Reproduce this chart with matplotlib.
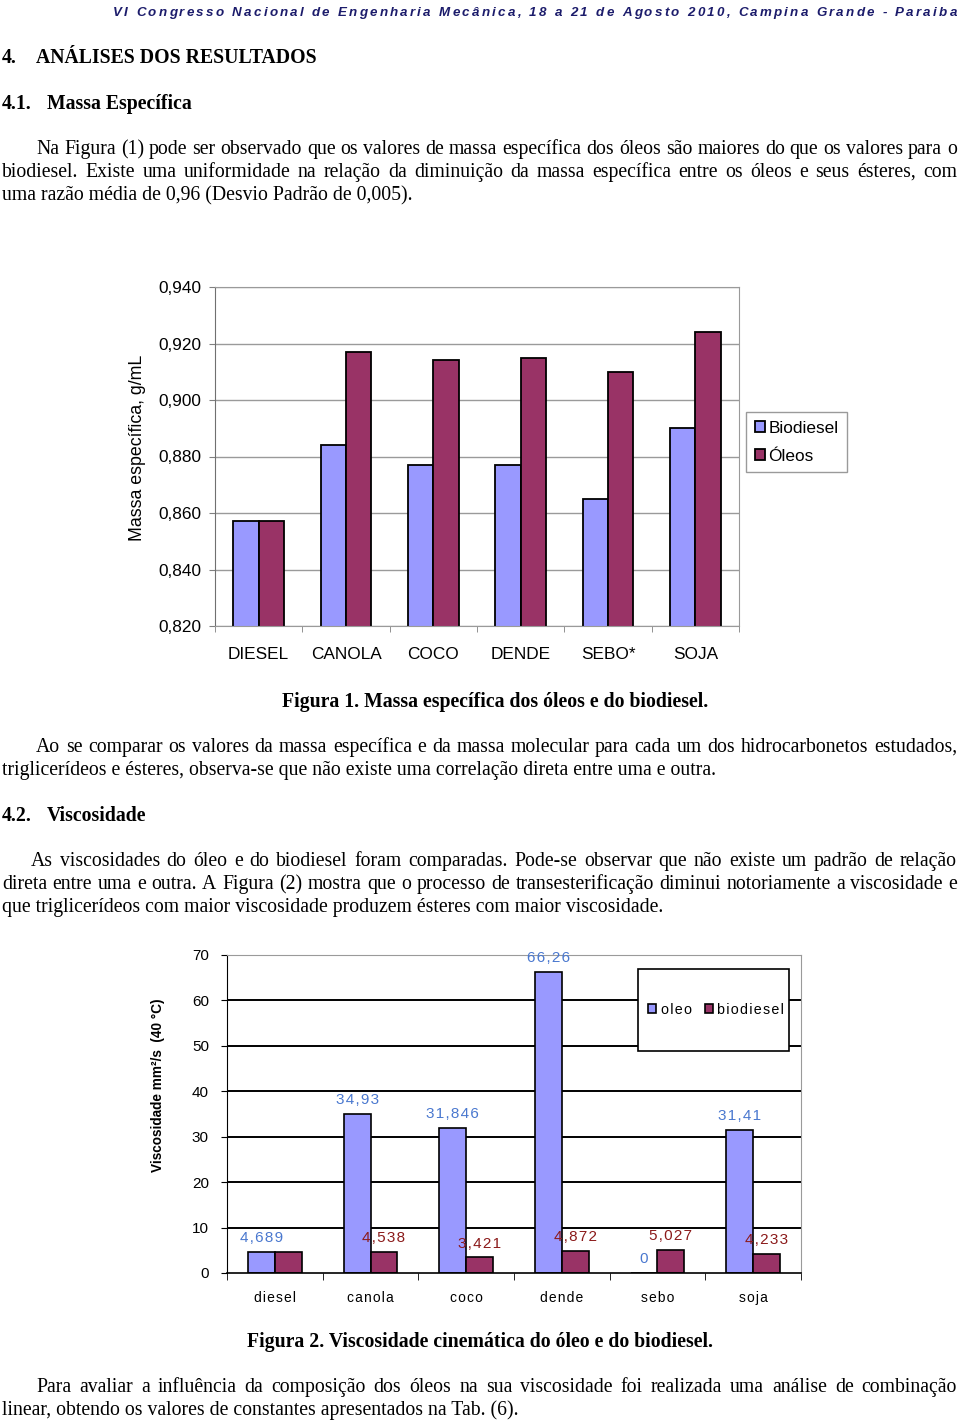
import numpy as np
import matplotlib.pyplot as plt
from matplotlib.patches import Rectangle

plt.rcParams["font.family"] = ["Liberation Sans", "DejaVu Sans"]

# page size in pixels
W, H = 960, 1421

# Figura 1 - massa especifica
cats1 = ["DIESEL", "CANOLA", "COCO", "DENDE", "SEBO*", "SOJA"]
biodiesel1 = [0.857, 0.884, 0.877, 0.877, 0.865, 0.890]
oleos1 = [0.857, 0.917, 0.914, 0.915, 0.910, 0.924]
yticks1 = [0.820, 0.840, 0.860, 0.880, 0.900, 0.920, 0.940]

# Figura 2 - viscosidade
cats2 = ["diesel", "canola", "coco", "dende", "sebo", "soja"]
oleo2 = [4.689, 34.93, 31.846, 66.26, 0, 31.41]
biodiesel2 = [4.689, 4.538, 3.421, 4.872, 5.027, 4.233]
show_bio_label = [False, True, True, True, True, True]
yticks2 = [0, 10, 20, 30, 40, 50, 60, 70]

BLUE = "#9999FF"
WINE = "#993366"
SERIF = "Liberation Serif"
HAIR = "\u200a"
TXT = 14.2

header = "VI Congresso Nacional de Engenharia Mecânica, 18 a 21 de Agosto 2010, Campina Grande - Paraiba"

par1 = ["Na Figura (1) pode ser observado que os valores de massa específica dos óleos são maiores do que os valores para o",
        "biodiesel. Existe uma uniformidade na relação da diminuição da massa específica entre os óleos e seus ésteres, com",
        "uma razão média de 0,96 (Desvio Padrão de 0,005)."]
par2 = ["Ao se comparar os valores da massa específica e da massa molecular para cada um dos hidrocarbonetos estudados,",
        "triglicerídeos e ésteres, observa-se que não existe uma correlação direta entre uma e outra."]
par3 = ["As viscosidades do óleo e do biodiesel foram comparadas. Pode-se observar que não existe um padrão de relação",
        "direta entre uma e outra. A Figura (2) mostra que o processo de transesterificação diminui notoriamente a viscosidade e",
        "que triglicerídeos com maior viscosidade produzem ésteres com maior viscosidade."]
par4 = ["Para avaliar a influência da composição dos óleos na sua viscosidade foi realizada uma análise de combinação",
        "linear, obtendo os valores de constantes apresentados na Tab. (6)."]


def fx(x):
    return x / W


def fy(y):
    return 1 - y / H


def spaced(s, sep=HAIR):
    return sep.join(s)


def comma(v, fmt="{:g}"):
    return fmt.format(v).replace(".", ",")


fig = plt.figure(figsize=(W / 100, H / 100), dpi=100)
renderer = fig.canvas.get_renderer()


def put(x, y, s, size=TXT, **kw):
    # y is the visual middle of the line; text sits on a baseline below it
    return fig.text(fx(x), fy(y + 5), s, va="baseline", family=SERIF, fontsize=size, **kw)


def justified(x0, x1, y, s, **kw):
    words = s.split()
    objs = [put(0, y, w, **kw) for w in words]
    widths = [o.get_window_extent(renderer).width for o in objs]
    gap = (x1 - x0 - sum(widths)) / (len(words) - 1)
    x = x0
    for o, w in zip(objs, widths):
        o.set_x(fx(x))
        x += w + gap


def paragraph(lines, y0, indent, step=23):
    for i, s in enumerate(lines):
        x0 = indent if i == 0 else 2
        if i < len(lines) - 1:
            justified(x0, 957, y0 + i * step, s)
        else:
            put(x0, y0 + i * step, s)


def tracked(x0, x1, y, s, **kw):
    # letter-spaced line: every character placed so the line fills [x0, x1]
    probe = fig.text(0, 0, "xx", **kw)
    base = probe.get_window_extent(renderer).width
    adv = []
    for c in s:
        probe.set_text("x" + c + "x")
        adv.append(probe.get_window_extent(renderer).width - base)
    probe.remove()
    t = (x1 - x0 - sum(adv)) / (len(s) - 1)
    x = x0
    for c, a in zip(s, adv):
        if c != " ":
            fig.text(fx(x), fy(y + 5), c, va="baseline", **kw)
        x += a + t


# header
tracked(113, 957, 11, header, fontsize=9.6, fontweight="bold", style="italic", color="#1C1C6B")

put(2, 58, "4.", fontweight="bold")
put(36, 58, "ANÁLISES DOS RESULTADOS", fontweight="bold")
put(2, 104, "4.1.", fontweight="bold")
put(47, 104, "Massa Específica", fontweight="bold")
paragraph(par1, 149, 36)

put(495, 702, "Figura 1. Massa específica dos óleos e do biodiesel.", fontweight="bold", ha="center")
paragraph(par2, 747, 36)
put(2, 816, "4.2.", fontweight="bold")
put(47, 816, "Viscosidade", fontweight="bold")
paragraph(par3, 861, 31)

put(480, 1342, "Figura 2. Viscosidade cinemática do óleo e do biodiesel.", fontweight="bold", ha="center")
paragraph(par4, 1387, 36)

# ---------- Figura 1 ----------
F1 = 12.4
ax1 = fig.add_axes([fx(215), fy(626), (739 - 215) / W, (626 - 287) / H])
x = np.arange(len(cats1))
w1 = 0.29
ax1.bar(x - w1 / 2, biodiesel1, w1, color=BLUE, edgecolor="black", linewidth=1.3, label="Biodiesel")
ax1.bar(x + w1 / 2, oleos1, w1, color=WINE, edgecolor="black", linewidth=1.3, label="Óleos")
ax1.set_xlim(-0.5, len(cats1) - 0.5)
ax1.set_ylim(yticks1[0], yticks1[-1])
ax1.set_yticks(yticks1, [comma(v, "{:.3f}") for v in yticks1], fontsize=F1)
ax1.set_xticks(x, cats1, fontsize=F1)
ax1.set_xticks(np.arange(-0.5, len(cats1)), minor=True)
ax1.tick_params(axis="x", which="major", length=0, pad=15)
ax1.tick_params(axis="x", which="minor", length=4, color="#808080")
ax1.tick_params(axis="y", length=4, color="#808080", pad=6)
ax1.set_axisbelow(True)
ax1.grid(axis="y", color="#9a9a9a", linewidth=1)
for side in ["top", "right", "bottom"]:
    ax1.spines[side].set_color("#9a9a9a")
ax1.spines["left"].set_color("#707070")
ax1.set_ylabel("Massa específica, g/mL", fontsize=12.8, va="center")
ax1.yaxis.set_label_coords(-0.147, 0.525)
ax1.legend(loc="upper left", bbox_to_anchor=(fx(746), fy(412)), bbox_transform=fig.transFigure,
           fontsize=F1, fancybox=False, edgecolor="#9a9a9a", framealpha=1,
           handlelength=0.6, handleheight=0.6, handletextpad=0.2, labelspacing=0.75,
           borderpad=0.5, borderaxespad=0)

# ---------- Figura 2 ----------
ax2 = fig.add_axes([fx(227), fy(1273), (801 - 227) / W, (1273 - 955) / H])
x2 = np.arange(len(cats2))
w2 = 0.28
b_oleo = ax2.bar(x2 - w2 / 2, oleo2, w2, color=BLUE, edgecolor="black", linewidth=1.2)
b_bio = ax2.bar(x2 + w2 / 2, biodiesel2, w2, color=WINE, edgecolor="black", linewidth=1.2)
ax2.set_xlim(-0.5, len(cats2) - 0.5)
ax2.set_ylim(yticks2[0], yticks2[-1])
ax2.set_yticks(yticks2, [str(v) for v in yticks2], fontsize=11)
ax2.set_xticks(x2, [spaced(c) for c in cats2], fontsize=10)
ax2.set_xticks(np.arange(-0.5, len(cats2)), minor=True)
ax2.tick_params(axis="x", which="major", length=0, pad=13)
ax2.tick_params(axis="x", which="minor", length=5, color="black")
ax2.tick_params(axis="y", length=4, color="black", pad=9)
ax2.set_axisbelow(True)
ax2.grid(axis="y", color="black", linewidth=1.4)
gl = ax2.get_ygridlines()
gl[0].set_visible(False)
gl[-1].set_visible(False)
ax2.spines["top"].set_color("#9a9a9a")
ax2.spines["right"].set_color("#9a9a9a")
ax2.spines["left"].set_color("black")
ax2.spines["bottom"].set_color("black")
ax2.spines["bottom"].set_linewidth(1.2)
ax2.set_ylabel("Viscosidade mm²/s  (40 °C)", fontsize=9.8, fontweight="bold", va="center")
ax2.yaxis.set_label_coords(-0.12, 0.59)

for xi, v in zip(x2, oleo2):
    ax2.annotate(spaced(comma(v)), (xi - w2 / 2, v), xytext=(0, 10), textcoords="offset points",
                 ha="center", va="center", fontsize=11, color="#4A78CF")
for xi, v, show in zip(x2, biodiesel2, show_bio_label):
    if show:
        ax2.annotate(spaced(comma(v)), (xi + w2 / 2, v), xytext=(0, 10), textcoords="offset points",
                     ha="center", va="center", fontsize=11, color="#8B1A1A")

fig.patches.append(Rectangle((fx(638), fy(1051)), (789 - 638) / W, (1051 - 969) / H,
                             transform=fig.transFigure, facecolor="white", edgecolor="black",
                             linewidth=1.2, zorder=3))
fig.legend([b_oleo, b_bio], [spaced("oleo"), spaced("biodiesel")], loc="center",
           bbox_to_anchor=(fx(716), fy(1010)), ncol=2, frameon=False, fontsize=10.3,
           handlelength=0.6, handleheight=0.6, handletextpad=0.3, columnspacing=0.9)

fig.savefig("out.png", dpi=100, facecolor="white")
